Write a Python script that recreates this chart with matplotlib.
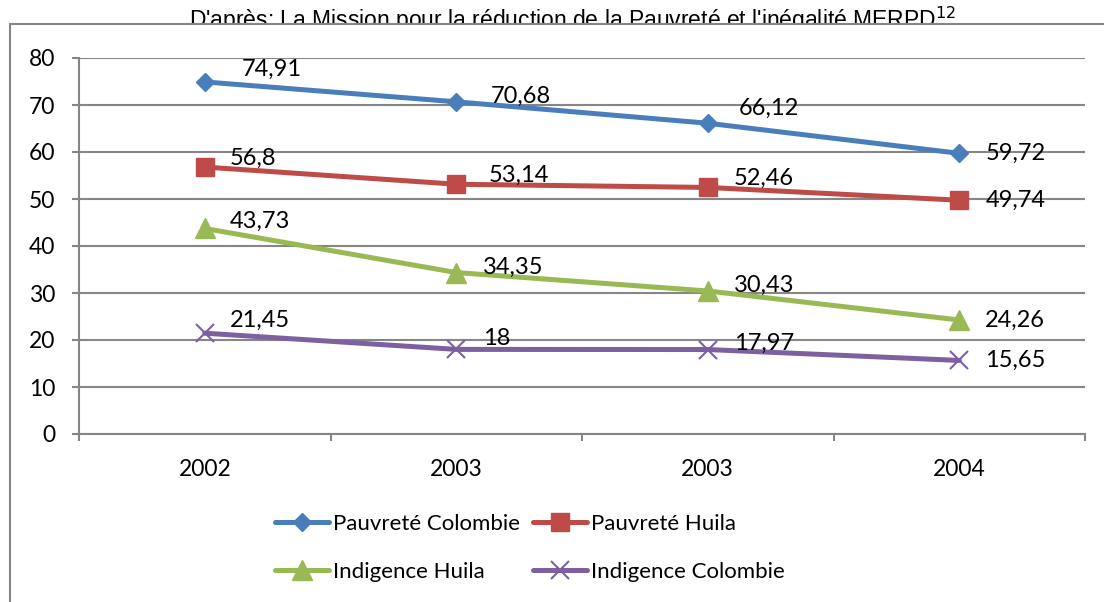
import matplotlib.pyplot as plt
from matplotlib.patches import Rectangle

# data
years = ["2002", "2003", "2003", "2004"]
pauvrete_colombie = [74.91, 70.68, 66.12, 59.72]
pauvrete_huila = [56.8, 53.14, 52.46, 49.74]
indigence_huila = [43.73, 34.35, 30.43, 24.26]
indigence_colombie = [21.45, 18, 17.97, 15.65]

series = [
    ("Pauvreté Colombie", pauvrete_colombie, "#4A7EBB", "D", 9.5),
    ("Pauvreté Huila", pauvrete_huila, "#BE4B48", "s", 13),
    ("Indigence Huila", indigence_huila, "#98B954", "^", 14),
    ("Indigence Colombie", indigence_colombie, "#7D60A0", "x", 13),
]

# label placement (pixels, right of / above the marker), like the excel labels
label_offsets = [
    [(37, 13), (34, 5), (31, 15), (26, 0)],
    [(25, 9), (32, 9), (26, 9), (26, 0)],
    [(25, 7), (27, 5), (26, 6), (26, 0)],
    [(25, 13), (27, 11), (26, 6), (26, 0)],
]

grey = "#868686"
plt.rcParams["font.family"] = ["Lato", "DejaVu Sans"]

fig = plt.figure(figsize=(11.04, 6.02), dpi=100)

# title sits behind the chart frame, so it gets cut off
fig.text(573 / 1104, 1 - 28 / 602, "D'après: La Mission pour la réduction de la Pauvreté et l'inégalité MERPD$^{12}$",
         ha="center", va="baseline", fontsize=16.5, family="Liberation Sans", zorder=0.5)
frame = Rectangle((10 / 1104, -0.1), 1.2, 1 - 24 / 602 + 0.1, transform=fig.transFigure,
                  facecolor="white", edgecolor=grey, linewidth=1.5, zorder=1)
fig.patches.append(frame)

ax = fig.add_axes([79 / 1104, 1 - 434 / 602, (1085 - 79) / 1104, (434 - 58) / 602], zorder=2)
ax.set_facecolor("none")

x = list(range(len(years)))
for (name, vals, col, mk, ms), offs in zip(series, label_offsets):
    kw = dict(markeredgewidth=1.5) if mk == "x" else dict(markeredgecolor=col)
    ax.plot(x, vals, color=col, linewidth=3.6, marker=mk, markersize=ms,
            label=name, solid_capstyle="round", zorder=3, **kw)
    for xi, v, (dx, dy) in zip(x, vals, offs):
        ax.annotate(f"{v:g}".replace(".", ","), (xi, v), xytext=(dx, dy),
                    textcoords="offset pixels", ha="left", va="center",
                    fontsize=17, zorder=4)

ax.set_xlim(-0.5, 3.5)
ax.set_ylim(0, 80)
ax.set_yticks(range(0, 81, 10))
ax.set_xticks(x)
ax.set_xticklabels(years)
ax.set_xticks([-0.5, 0.5, 1.5, 2.5, 3.5], minor=True)
ax.yaxis.grid(True, color=grey, linewidth=1.5)
ax.set_axisbelow(True)

for s in ["top", "right"]:
    ax.spines[s].set_visible(False)
for s in ["left", "bottom"]:
    ax.spines[s].set_color(grey)
    ax.spines[s].set_linewidth(1.5)

ax.tick_params(axis="y", length=5, width=1.5, color=grey, pad=12, labelsize=16.5)
ax.tick_params(axis="x", which="major", length=0, pad=18, labelsize=16.5)
ax.tick_params(axis="x", which="minor", length=5, width=1.5, color=grey)

# excel fills the legend row by row
h, l = ax.get_legend_handles_labels()
order = [0, 2, 1, 3]
leg = fig.legend([h[i] for i in order], [l[i] for i in order], ncol=2, loc="center",
                 bbox_to_anchor=(530 / 1104, 1 - 548 / 602),
                 frameon=False, fontsize=16, handlelength=2.4, handletextpad=0.2,
                 columnspacing=0.6, labelspacing=1.25, borderpad=0)
leg.set_zorder(3)

fig.savefig("out.png", dpi=100)
